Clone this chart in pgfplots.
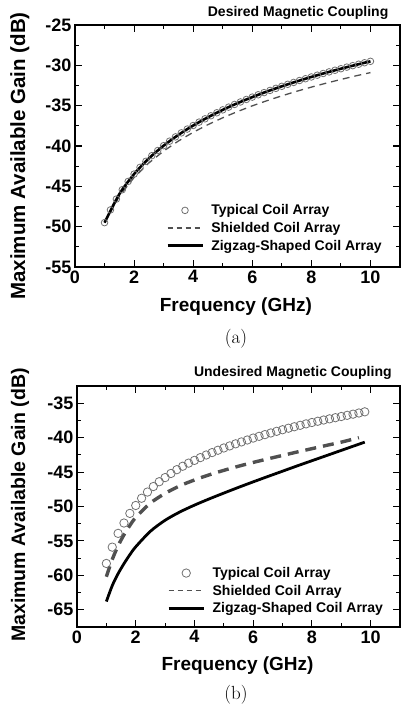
\documentclass[border=0pt]{standalone}
\usepackage{fontspec}
\usepackage{pgfplots}
\usepackage{pgfplotstable}
\pgfplotsset{compat=1.18}
\newfontfamily\arial{Liberation Sans}

% (a) desired coupling
\pgfplotstableread{
f typ
1.0 -49.50
1.2 -47.92
1.4 -46.58
1.6 -45.42
1.8 -44.39
2.0 -43.48
2.2 -42.65
2.4 -41.90
2.6 -41.20
2.8 -40.56
3.0 -39.96
3.2 -39.40
3.4 -38.87
3.6 -38.37
3.8 -37.90
4.0 -37.46
4.2 -37.04
4.4 -36.63
4.6 -36.25
4.8 -35.88
5.0 -35.52
5.2 -35.18
5.4 -34.85
5.6 -34.54
5.8 -34.23
6.0 -33.94
6.2 -33.65
6.4 -33.38
6.6 -33.11
6.8 -32.85
7.0 -32.60
7.2 -32.35
7.4 -32.12
7.6 -31.88
7.8 -31.66
8.0 -31.44
8.2 -31.22
8.4 -31.01
8.6 -30.81
8.8 -30.61
9.0 -30.42
9.2 -30.22
9.4 -30.04
9.6 -29.86
9.8 -29.68
10.0 -29.50
}\desTyp

\pgfplotstableread{
f shd zig
1.0 -49.50 -49.50
1.5 -46.22 -45.97
2.0 -43.90 -43.48
2.5 -42.10 -41.54
3.0 -40.63 -39.96
3.5 -39.38 -38.62
4.0 -38.30 -37.46
4.5 -37.35 -36.44
5.0 -36.50 -35.52
5.5 -35.73 -34.69
6.0 -35.02 -33.94
6.5 -34.38 -33.24
7.0 -33.78 -32.60
7.5 -33.22 -32.00
8.0 -32.70 -31.44
8.5 -32.21 -30.91
9.0 -31.75 -30.42
9.5 -31.31 -29.95
10.0 -30.90 -29.50
}\desLines

% (b) undesired coupling
\pgfplotstableread{
f typ
1.0 -58.27
1.2 -55.90
1.4 -53.90
1.6 -52.40
1.8 -51.00
2.0 -49.85
2.2 -48.80
2.4 -47.90
2.6 -47.10
2.8 -46.40
3.0 -45.80
3.2 -45.20
3.4 -44.65
3.6 -44.15
3.8 -43.70
4.0 -43.30
4.2 -42.90
4.4 -42.52
4.6 -42.17
4.8 -41.83
5.0 -41.50
5.2 -41.20
5.4 -40.90
5.6 -40.62
5.8 -40.34
6.0 -40.06
6.2 -39.81
6.4 -39.56
6.6 -39.32
6.8 -39.08
7.0 -38.85
7.2 -38.63
7.4 -38.42
7.6 -38.21
7.8 -38.00
8.0 -37.80
8.2 -37.62
8.4 -37.44
8.6 -37.27
8.8 -37.10
9.0 -36.93
9.2 -36.76
9.4 -36.59
9.6 -36.42
9.8 -36.25
}\undTyp

\pgfplotstableread{
f shd
1.0 -60.20
1.2 -57.70
1.4 -55.70
1.6 -54.10
1.8 -52.75
2.0 -51.60
2.5 -49.50
3.0 -48.10
3.5 -47.00
4.0 -46.15
4.5 -45.40
5.0 -44.75
5.5 -44.15
6.0 -43.60
6.5 -43.08
7.0 -42.58
7.5 -42.08
8.0 -41.60
8.5 -41.12
9.0 -40.65
9.6 -40.00
}\undShd

\pgfplotstableread{
f zig
1.0 -63.80
1.2 -61.50
1.4 -59.75
1.6 -58.30
1.8 -57.00
2.0 -55.85
2.5 -53.60
3.0 -52.00
3.5 -50.80
4.0 -49.80
4.5 -48.90
5.0 -48.05
5.5 -47.22
6.0 -46.42
6.5 -45.64
7.0 -44.87
7.5 -44.10
8.0 -43.35
8.5 -42.60
9.0 -41.85
9.8 -40.65
}\undZig

\definecolor{circgray}{HTML}{707070}
\definecolor{dashgray}{HTML}{505050}

\pgfplotsset{
  magax/.style={
    scale only axis,
    xmin=0, xmax=11, xtick={0,2,...,10}, minor x tick num=1,
    minor y tick num=1,
    tick align=inside, major tick length=7pt, minor tick length=4pt,
    axis line style={line width=1.3pt},
    every tick/.style={black, line width=1.1pt},
    tick label style={font=\arial\bfseries\fontsize{18}{18}\selectfont},
    /pgf/number format/assume math mode=true,
    legend style={draw=none, fill=none, anchor=north west, inner sep=0pt,
      font=\arial\bfseries\fontsize{14}{14}\selectfont,
      nodes={inner sep=1.5pt}, row sep=3pt,
      /tikz/every odd column/.append style={column sep=6pt}},
    legend cell align=left,
    legend image code/.code={\draw[#1] (0pt,0pt) -- (35pt,0pt);},
    every axis title shift=0pt,
    title style={font=\arial\bfseries\fontsize{14}{14}\selectfont, anchor=east},
  },
  circleg/.style={legend image code/.code={\draw[#1] plot coordinates {(17.5pt,0pt)};}},
  dashleg/.style={legend image code/.code={\draw[#1, line width=1.2pt, dash pattern=on 5pt off 4pt] (0pt,0pt) -- (35pt,0pt);}},
}

\begin{document}
\begin{tikzpicture}
\useasboundingbox (0,0) rectangle (400pt,-706pt);

\begin{axis}[magax,
  at={(75pt,-267pt)}, anchor=south west,
  width=325pt, height=242pt,
  ymin=-55, ymax=-25, ytick={-55,-50,...,-25},
  xlabel={Frequency (GHz)},
  ylabel={Maximum Available Gain (dB)},
  xlabel style={at={(axis description cs:0.495,-0.165)}, anchor=center,
    font=\arial\bfseries\fontsize{19}{19}\selectfont},
  ylabel style={at={(axis description cs:-0.17,0.459)}, anchor=center,
    font=\arial\bfseries\fontsize{20.5}{20.5}\selectfont},
  title={Desired Magnetic Coupling},
  title style={at={(axis description cs:0.975,1.05)}},
  legend style={at={(axis description cs:0.28,0.265)}},
]
\addplot[only marks, mark=o, mark size=3.3pt, circgray, line width=0.8pt, circleg] table[x=f, y=typ] {\desTyp};
\addlegendentry{Typical Coil Array}
\addplot[dashgray, line width=1.3pt, dash pattern=on 7pt off 5pt, dashleg] table[x=f, y=shd] {\desLines};
\addlegendentry{Shielded Coil Array}
\addplot[black, line width=2.6pt, smooth] table[x=f, y=zig] {\desLines};
\addlegendentry{Zigzag-Shaped Coil Array}
\end{axis}

\node[font=\fontsize{19}{19}\selectfont] at (236pt,-339pt) {(a)};

\begin{axis}[magax,
  at={(77pt,-627pt)}, anchor=south west,
  width=323pt, height=241pt,
  ymin=-67.5, ymax=-32.5, ytick={-65,-60,...,-35},
  xlabel={Frequency (GHz)},
  ylabel={Maximum Available Gain (dB)},
  xlabel style={at={(axis description cs:0.497,-0.158)}, anchor=center,
    font=\arial\bfseries\fontsize{19}{19}\selectfont},
  ylabel style={at={(axis description cs:-0.176,0.506)}, anchor=center,
    font=\arial\bfseries\fontsize{19.5}{19.5}\selectfont},
  title={Undesired Magnetic Coupling},
  title style={at={(axis description cs:0.985,1.054)}},
  legend style={at={(axis description cs:0.279,0.255)}},
]
\addplot[only marks, mark=o, mark size=4.2pt, circgray, line width=0.8pt, circleg] table[x=f, y=typ] {\undTyp};
\addlegendentry{Typical Coil Array}
\addplot[dashgray, line width=3.4pt, dash pattern=on 11pt off 7pt, smooth, dashleg] table[x=f, y=shd] {\undShd};
\addlegendentry{Shielded Coil Array}
\addplot[black, line width=2.8pt, smooth] table[x=f, y=zig] {\undZig};
\addlegendentry{Zigzag-Shaped Coil Array}
\end{axis}

\node[font=\fontsize{19}{19}\selectfont] at (236pt,-695pt) {(b)};
\end{tikzpicture}
\end{document}
